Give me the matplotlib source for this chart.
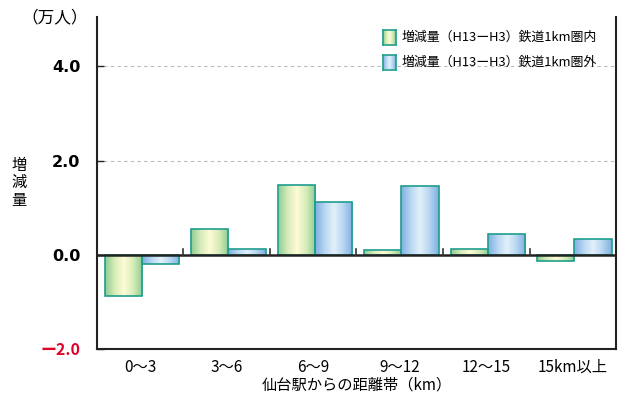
import numpy as np
import matplotlib
matplotlib.use("Agg")
import matplotlib.pyplot as plt
from matplotlib.colors import LinearSegmentedColormap
from matplotlib.patches import Rectangle

plt.rcParams['font.family'] = ['Noto Sans CJK JP', 'DejaVu Sans']

# data (万人)
categories = ['0〜3', '3〜6', '6〜9', '9〜12', '12〜15', '15km以上']
inside_1km = [-0.88, 0.55, 1.48, 0.09, 0.13, -0.13]
outside_1km = [-0.20, 0.13, 1.13, 1.46, 0.45, 0.34]
series_names = ['増減量（H13ーH3）鉄道1km圏内', '増減量（H13ーH3）鉄道1km圏外']
yticks = [-2.0, 0.0, 2.0, 4.0]

green_cmap = LinearSegmentedColormap.from_list(
    'g', ['#8fcc94', '#d6ecb8', '#fffbd6', '#d6ecb8', '#8fcc94'])
blue_cmap = LinearSegmentedColormap.from_list(
    'b', ['#7fb0e2', '#b8d6f0', '#e2f1fb', '#b8d6f0', '#7fb0e2'])
edge = '#1e9e8e'
grad = np.linspace(0, 1, 64).reshape(1, -1)

fig = plt.figure(figsize=(6.21, 3.96), dpi=100)
ax = fig.add_axes([0.156, 0.119, 0.836, 0.838])

x = np.arange(len(categories)) + 0.02
w = 0.43


def gradient_bars(xpos, vals, cmap):
    bars = ax.bar(xpos, vals, w, facecolor='none', edgecolor=edge, linewidth=1.2, zorder=3)
    for b in bars:
        x0, y0 = b.get_x(), b.get_y()
        bw, bh = b.get_width(), b.get_height()
        im = ax.imshow(grad, cmap=cmap, aspect='auto', zorder=2,
                       extent=[x0, x0 + bw, min(y0, y0 + bh), max(y0, y0 + bh)])
        im.set_clip_path(Rectangle((x0, y0), bw, bh, transform=ax.transData))


gradient_bars(x - w / 2, inside_1km, green_cmap)
gradient_bars(x + w / 2, outside_1km, blue_cmap)

ax.set_xlim(-0.5, len(categories) - 0.5)
ax.set_ylim(-2.0, 5.05)

# zero line and small separators between groups
ax.axhline(0, color='#222222', linewidth=1.8, zorder=4)
for b in np.arange(0.5, len(categories) - 0.5, 1):
    ax.plot([b, b], [0, 0.13], color='#333333', linewidth=1.2, zorder=4)

for yv in [2.0, 4.0]:
    ax.axhline(yv, color='#bbbbbb', linewidth=0.8, linestyle=(0, (3, 3)), zorder=1)

ax.spines['top'].set_visible(False)
for s in ['left', 'right', 'bottom']:
    ax.spines[s].set_color('#222222')
    ax.spines[s].set_linewidth(1.5)

ax.set_yticks(yticks)
ax.set_yticklabels(['ー2.0', '0.0', '2.0', '4.0'], fontsize=11.5, fontweight='bold',
                   family=['DejaVu Sans'])
ax.get_yticklabels()[0].set_color('#e0002a')
ax.get_yticklabels()[0].set_family(['Noto Sans CJK JP'])
ax.tick_params(axis='y', length=5, width=1, color='#222222', pad=12, direction='in')
ax.set_xticks(x - 0.02)
ax.tick_params(axis='x', length=0, pad=7)
ax.set_xticklabels(categories, fontsize=11)
ax.set_xlabel('仙台駅からの距離帯（km）', fontsize=11, labelpad=1)

fig.text(0.018, 0.538, '増\n減\n量', fontsize=11, linespacing=1.05, va='center')
fig.text(0.035, 0.955, '（万人）', fontsize=12, va='center')

# legend
for i, (name, cmap) in enumerate(zip(series_names, [green_cmap, blue_cmap])):
    yc = 1 - (37 + 25 * i) / 396
    lx0, lw, lh = 383 / 621, 13 / 621, 15 / 396
    lax = fig.add_axes([lx0, yc - lh / 2, lw, lh])
    lax.imshow(grad, cmap=cmap, aspect='auto')
    lax.set_xticks([])
    lax.set_yticks([])
    for s in lax.spines.values():
        s.set_color(edge)
        s.set_linewidth(1.2)
    fig.text(402 / 621, yc, name, fontsize=9.3, va='center')

fig.savefig('out.png', dpi=100)
